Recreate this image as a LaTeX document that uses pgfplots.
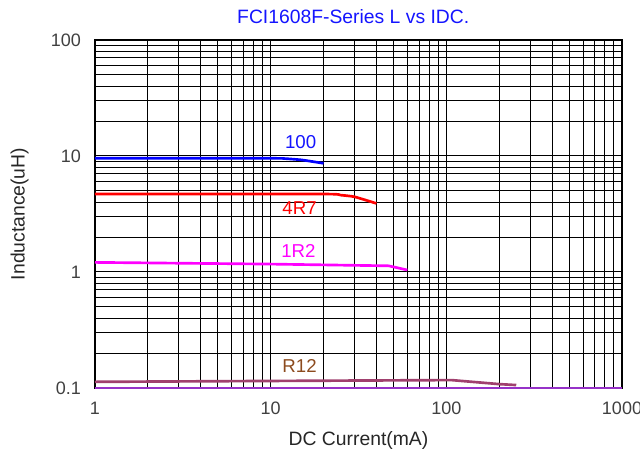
\documentclass[border=0pt]{standalone}
\usepackage{pgfplots}
\pgfplotsset{compat=1.18}
\usepackage{fontspec}
\setmainfont{Liberation Sans}
\definecolor{rtwelve}{RGB}{160,64,110}
\definecolor{rtwelvetxt}{RGB}{140,75,30}
\definecolor{bluetxt}{RGB}{20,20,255}
\definecolor{mag}{RGB}{255,0,255}
\definecolor{pblue}{RGB}{0,0,255}
\definecolor{pred}{RGB}{255,0,0}
\definecolor{pviolet}{RGB}{150,50,200}
\begin{document}
\begin{tikzpicture}
\useasboundingbox (-71.25pt,-51pt) rectangle (408.75pt,291pt);
\begin{axis}[
  at={(0,0)}, anchor=south west,
  scale only axis, width=395.25pt, height=261pt,
  xmode=log, ymode=log,
  xmin=1, xmax=1000, ymin=0.1, ymax=100,
  xtick={1,10,100,1000}, xticklabels={1,10,100,1000},
  ytick={0.1,1,10,100}, yticklabels={0.1,1,10,100},
  major tick length=0pt, minor tick length=0pt,
  grid=both,
  major grid style={black, line width=0.75pt},
  minor grid style={black, line width=0.75pt},
  axis line style={black, line width=0.8pt},
  tick label style={font=\fontsize{13.5}{15}\selectfont, text=black!75},
  xticklabel style={yshift=-7pt},
  yticklabel style={xshift=-7pt},
  xlabel={DC Current(mA)}, ylabel={Inductance(uH)},
  label style={font=\fontsize{14.5}{16}\selectfont, text=black!85},
  xlabel style={at={(axis description cs:0.5,-0.151)}, anchor=center},
  ylabel style={at={(axis description cs:-0.143,0.5)}, anchor=center},
  title={FCI1608F-Series L vs IDC.},
  title style={font=\fontsize{14.5}{16}\selectfont, text=bluetxt, at={(axis description cs:0.49,1.043)}, anchor=center},
  clip=false,
]
\addplot[pblue, line width=2pt, smooth, tension=0.3] coordinates {(1,9.55) (10,9.55) (12,9.5) (15,9.25) (20,8.65)};
\addplot[pred, line width=2pt, smooth, tension=0.3] coordinates {(1,4.7) (20,4.7) (25,4.6) (30,4.45) (40,3.9)};
\addplot[mag, line width=2pt] coordinates {(1,1.21) (10,1.17) (47,1.13) (60,1.04)};
\addplot[rtwelve, line width=2pt] coordinates {(1,0.113) (10,0.115) (107,0.117) (200,0.108) (250,0.106)};
\draw[pviolet, line width=0.8pt] (rel axis cs:0,0) -- (rel axis cs:1,0);
\node[font=\fontsize{14}{16}\selectfont, text=bluetxt] at (axis cs:14.8,13.2) {100};
\node[font=\fontsize{14}{16}\selectfont, text=pred] at (axis cs:14.6,3.56) {4R7};
\node[font=\fontsize{14}{16}\selectfont, text=mag] at (axis cs:14.4,1.52) {1R2};
\node[font=\fontsize{14}{16}\selectfont, text=rtwelvetxt] at (axis cs:14.6,0.155) {R12};
\end{axis}
\end{tikzpicture}
\end{document}
